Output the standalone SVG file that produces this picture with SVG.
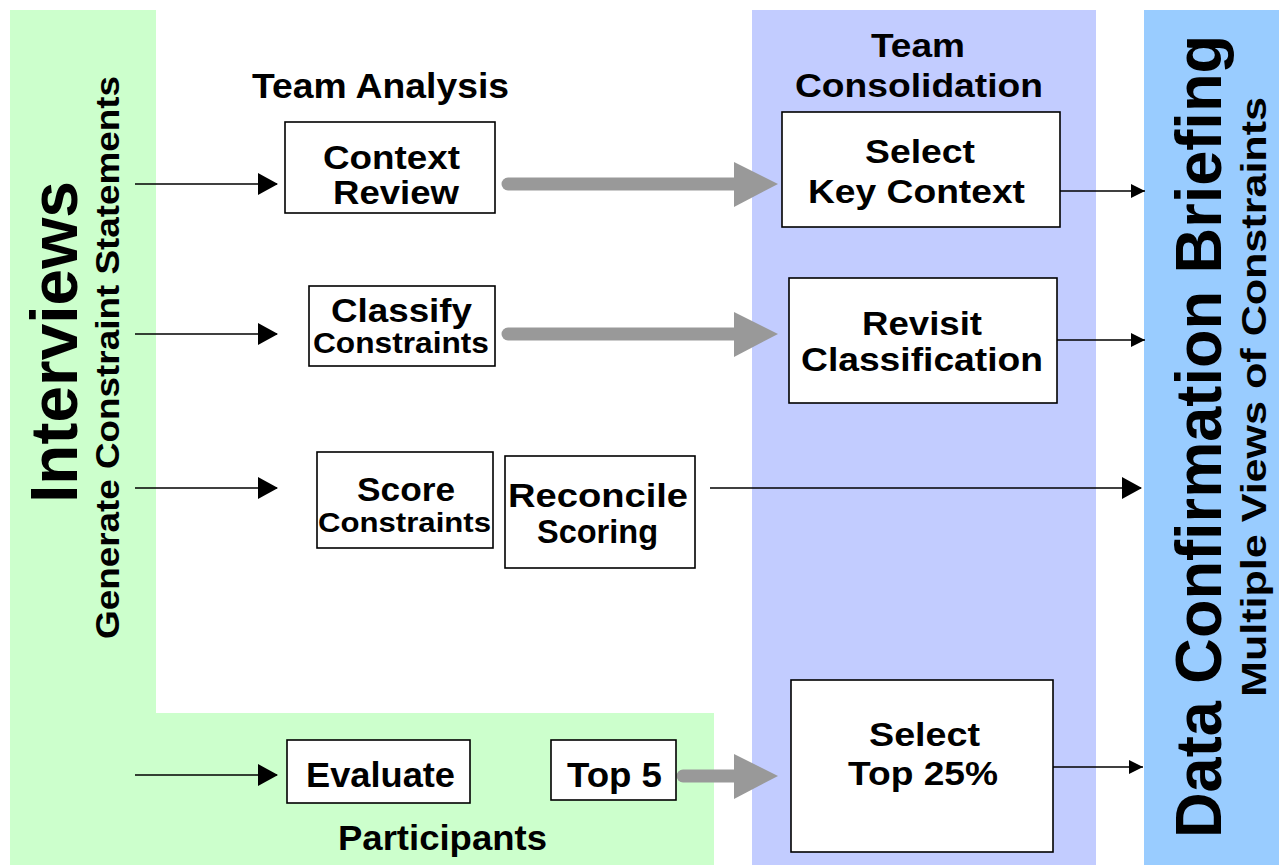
<svg xmlns="http://www.w3.org/2000/svg" width="1279" height="865" viewBox="0 0 1279 865">
<defs>
<style>
.t{font-family:"Liberation Sans",Arial,sans-serif;font-weight:bold;fill:#000}
.box{fill:#fff;stroke:#000;stroke-width:1.6}
.thin{stroke:#000;stroke-width:1.6;fill:none}
.fat{stroke:#999;stroke-width:13;stroke-linecap:round;fill:none}
</style>
<marker id="ah" markerUnits="userSpaceOnUse" markerWidth="20" markerHeight="22" refX="19" refY="11" orient="auto"><path d="M0,0 L20,11 L0,22 Z" fill="#000"/></marker>
<marker id="ahs" markerUnits="userSpaceOnUse" markerWidth="14" markerHeight="14" refX="14" refY="7" orient="auto"><path d="M0,0 L14,7 L0,14 Z" fill="#000"/></marker>
</defs>
<rect width="1279" height="865" fill="#fff"/>
<g id="backgrounds">
<path d="M10,10 H156 V713 H714 V865 H10 Z" fill="#CCFFCC"/>
<rect x="752" y="10" width="344" height="855" fill="#C2CCFF"/>
<rect x="1144" y="10" width="135" height="855" fill="#99CCFF"/>
</g>
<g id="labels">
<text class="t" font-size="66" transform="translate(77,503) rotate(-90)" textLength="322" lengthAdjust="spacingAndGlyphs">Interviews</text>
<text class="t" font-size="34" transform="translate(119,639) rotate(-90)" textLength="563" lengthAdjust="spacingAndGlyphs">Generate Constraint Statements</text>
<text class="t" font-size="35" x="252" y="98" textLength="257" lengthAdjust="spacingAndGlyphs">Team Analysis</text>
<text class="t" font-size="34" x="871" y="57" textLength="94" lengthAdjust="spacingAndGlyphs">Team</text>
<text class="t" font-size="34" x="795" y="97" textLength="248" lengthAdjust="spacingAndGlyphs">Consolidation</text>
<text class="t" font-size="35" x="338" y="850" textLength="209" lengthAdjust="spacingAndGlyphs">Participants</text>
<text class="t" font-size="64" transform="translate(1221,838) rotate(-90)" textLength="803" lengthAdjust="spacingAndGlyphs">Data Confirmation Briefing</text>
<text class="t" font-size="35" transform="translate(1266,697) rotate(-90)" textLength="600" lengthAdjust="spacingAndGlyphs">Multiple Views of Constraints</text>
</g>
<g id="connectors">
<line class="thin" x1="135" y1="184" x2="277" y2="184" marker-end="url(#ah)"/>
<line class="thin" x1="135" y1="334" x2="277" y2="334" marker-end="url(#ah)"/>
<line class="thin" x1="135" y1="488" x2="277" y2="488" marker-end="url(#ah)"/>
<line class="thin" x1="135" y1="775" x2="277" y2="775" marker-end="url(#ah)"/>
<line class="thin" x1="1060" y1="191" x2="1145" y2="191" marker-end="url(#ahs)"/>
<line class="thin" x1="1057" y1="340" x2="1145" y2="340" marker-end="url(#ahs)"/>
<line class="thin" x1="710" y1="488" x2="1141" y2="488" marker-end="url(#ah)"/>
<line class="thin" x1="1053" y1="767" x2="1143" y2="767" marker-end="url(#ahs)"/>
<line class="fat" x1="508" y1="184" x2="738" y2="184"/>
<path d="M734,162 L778,184 L734,207 Z" fill="#999"/>
<line class="fat" x1="508" y1="334" x2="738" y2="334"/>
<path d="M734,312 L778,334 L734,357 Z" fill="#999"/>
<line class="fat" x1="683" y1="776" x2="738" y2="776"/>
<path d="M734,754 L778,776 L734,799 Z" fill="#999"/>
</g>
<g id="context-review">
<rect class="box" x="285" y="122" width="210" height="91"/>
<text class="t" font-size="33" x="323" y="169" textLength="137" lengthAdjust="spacingAndGlyphs">Context</text>
<text class="t" font-size="33" x="333" y="204" textLength="126" lengthAdjust="spacingAndGlyphs">Review</text>
</g>
<g id="classify-constraints">
<rect class="box" x="309" y="286" width="186" height="80"/>
<text class="t" font-size="34" x="331" y="322" textLength="141" lengthAdjust="spacingAndGlyphs">Classify</text>
<text class="t" font-size="29" x="313" y="353" textLength="176" lengthAdjust="spacingAndGlyphs">Constraints</text>
</g>
<g id="score-constraints">
<rect class="box" x="317" y="452" width="176" height="96"/>
<text class="t" font-size="33" x="357" y="501" textLength="98" lengthAdjust="spacingAndGlyphs">Score</text>
<text class="t" font-size="28" x="318" y="532" textLength="173" lengthAdjust="spacingAndGlyphs">Constraints</text>
</g>
<g id="reconcile-scoring">
<rect class="box" x="505" y="456" width="190" height="112"/>
<text class="t" font-size="34" x="508" y="507" textLength="180" lengthAdjust="spacingAndGlyphs">Reconcile</text>
<text class="t" font-size="33" x="537" y="543" textLength="121" lengthAdjust="spacingAndGlyphs">Scoring</text>
</g>
<g id="evaluate">
<rect class="box" x="287" y="740" width="183" height="63"/>
<text class="t" font-size="35" x="306" y="787" textLength="149" lengthAdjust="spacingAndGlyphs">Evaluate</text>
</g>
<g id="top-5">
<rect class="box" x="551" y="740" width="125" height="60"/>
<text class="t" font-size="35" x="567" y="787" textLength="95" lengthAdjust="spacingAndGlyphs">Top 5</text>
</g>
<g id="select-key-context">
<rect class="box" x="782" y="112" width="278" height="115"/>
<text class="t" font-size="34" x="865" y="163" textLength="110" lengthAdjust="spacingAndGlyphs">Select</text>
<text class="t" font-size="34" x="808" y="203" textLength="217" lengthAdjust="spacingAndGlyphs">Key Context</text>
</g>
<g id="revisit-classification">
<rect class="box" x="789" y="278" width="268" height="125"/>
<text class="t" font-size="34" x="862" y="335" textLength="120" lengthAdjust="spacingAndGlyphs">Revisit</text>
<text class="t" font-size="34" x="801" y="371" textLength="242" lengthAdjust="spacingAndGlyphs">Classification</text>
</g>
<g id="select-top-25">
<rect class="box" x="791" y="680" width="262" height="172"/>
<text class="t" font-size="34" x="869" y="746" textLength="111" lengthAdjust="spacingAndGlyphs">Select</text>
<text class="t" font-size="34" x="848" y="785" textLength="150" lengthAdjust="spacingAndGlyphs">Top 25%</text>
</g>
</svg>
